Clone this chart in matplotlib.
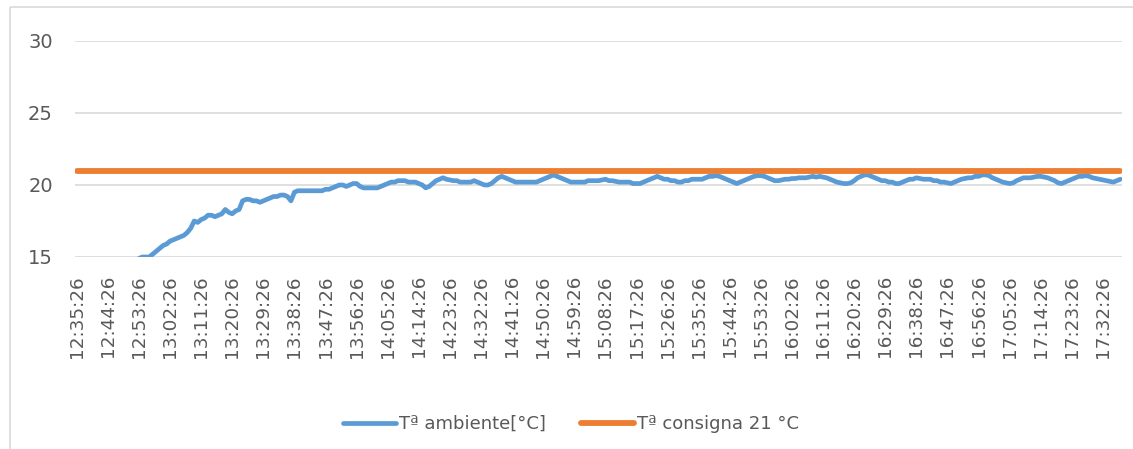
import matplotlib
matplotlib.use("Agg")
import matplotlib.pyplot as plt
from matplotlib.patches import Rectangle
import numpy as np

# Per-minute ambient temperature readings starting 12:35:26
temp_ambiente = [
    12.4, 12.5, 12.6, 12.7, 12.8, 12.9, 13.0, 13.1, 13.2,
    13.3, 13.4, 13.5, 13.6, 13.8, 13.9, 14.1, 14.3, 14.6,
    14.9, 15.0, 15.0, 15.0, 15.2, 15.4, 15.6, 15.8, 15.9,
    16.1, 16.2, 16.3, 16.4, 16.5, 16.7, 17.0, 17.5, 17.4,
    17.6, 17.7, 17.9, 17.9, 17.8, 17.9, 18.0, 18.3, 18.1,
    18.0, 18.2, 18.3, 18.9, 19.0, 19.0, 18.9, 18.9, 18.8,
    18.9, 19.0, 19.1, 19.2, 19.2, 19.3, 19.3, 19.2, 18.9,
    19.5, 19.6, 19.6, 19.6, 19.6, 19.6, 19.6, 19.6, 19.6,
    19.7, 19.7, 19.8, 19.9, 20.0, 20.0, 19.9, 20.0, 20.1,
    20.1, 19.9, 19.8, 19.8, 19.8, 19.8, 19.8, 19.9, 20.0,
    20.1, 20.2, 20.2, 20.3, 20.3, 20.3, 20.2, 20.2, 20.2,
    20.1, 20.0, 19.8, 19.9, 20.1, 20.3, 20.4, 20.5, 20.4,
    20.35, 20.3, 20.3, 20.2, 20.2, 20.2, 20.2, 20.3, 20.2,
    20.1, 20.0, 20.0, 20.1, 20.3, 20.5, 20.6, 20.5, 20.4,
    20.3, 20.2, 20.2, 20.2, 20.2, 20.2, 20.2, 20.2, 20.3,
    20.4, 20.5, 20.6, 20.7, 20.6, 20.5, 20.4, 20.3, 20.2,
    20.2, 20.2, 20.2, 20.2, 20.3, 20.3, 20.3, 20.3, 20.35,
    20.4, 20.3, 20.3, 20.25, 20.2, 20.2, 20.2, 20.2, 20.1,
    20.1, 20.1, 20.2, 20.3, 20.4, 20.5, 20.6, 20.5, 20.4,
    20.4, 20.3, 20.3, 20.2, 20.2, 20.3, 20.3, 20.4, 20.4,
    20.4, 20.4, 20.5, 20.6, 20.6, 20.65, 20.6, 20.5, 20.4,
    20.3, 20.2, 20.1, 20.2, 20.3, 20.4, 20.5, 20.6, 20.65,
    20.65, 20.6, 20.5, 20.4, 20.3, 20.3, 20.35, 20.4, 20.4,
    20.45, 20.45, 20.5, 20.5, 20.5, 20.55, 20.6, 20.55, 20.6,
    20.55, 20.5, 20.4, 20.3, 20.2, 20.15, 20.1, 20.1, 20.15,
    20.3, 20.5, 20.6, 20.7, 20.7, 20.6, 20.5, 20.4, 20.3,
    20.3, 20.2, 20.2, 20.1, 20.1, 20.2, 20.3, 20.4, 20.4,
    20.5, 20.45, 20.4, 20.4, 20.4, 20.3, 20.3, 20.2, 20.2,
    20.15, 20.1, 20.2, 20.3, 20.4, 20.45, 20.5, 20.5, 20.6,
    20.6, 20.7, 20.7, 20.65, 20.5, 20.4, 20.3, 20.2, 20.15,
    20.1, 20.15, 20.3, 20.4, 20.5, 20.5, 20.5, 20.55, 20.6,
    20.6, 20.55, 20.5, 20.4, 20.3, 20.15, 20.1, 20.2, 20.3,
    20.4, 20.5, 20.6, 20.6, 20.65, 20.6, 20.5, 20.45, 20.4,
    20.35, 20.3, 20.25, 20.2, 20.3, 20.4,
]
setpoint = 21.0
temp_consigna = [setpoint] * len(temp_ambiente)

tick_labels = [
    "12:35:26", "12:44:26", "12:53:26", "13:02:26", "13:11:26", "13:20:26",
    "13:29:26", "13:38:26", "13:47:26", "13:56:26", "14:05:26", "14:14:26",
    "14:23:26", "14:32:26", "14:41:26", "14:50:26", "14:59:26", "15:08:26",
    "15:17:26", "15:26:26", "15:35:26", "15:44:26", "15:53:26", "16:02:26",
    "16:11:26", "16:20:26", "16:29:26", "16:38:26", "16:47:26", "16:56:26",
    "17:05:26", "17:14:26", "17:23:26", "17:32:26",
]
label_step = 9  # minutes between tick labels

series_names = ["Tª ambiente[°C]", "Tª consigna 21 °C"]
colors = ["#5B9BD5", "#ED7D31"]

W, H = 1133, 449
fig = plt.figure(figsize=(W / 100, H / 100), dpi=100)
fig.patch.set_facecolor("white")

# outer chart border
fig.add_artist(Rectangle((10 / W, 1 - 7 / H), 2.0, -2.0, transform=fig.transFigure,
                         fill=False, edgecolor="#D9D9D9", linewidth=1.2))

left, right = 75 / W, 1122 / W
bottom, top = 1 - 257 / H, 1 - 41 / H
ax = fig.add_axes([left, bottom, right - left, top - bottom])

x = np.arange(len(temp_ambiente))
ax.plot(x, temp_ambiente, color=colors[0], linewidth=3.4, label=series_names[0],
        solid_capstyle="round", solid_joinstyle="round", zorder=3)
ax.plot(x, temp_consigna, color=colors[1], linewidth=4.2, label=series_names[1],
        solid_capstyle="round", zorder=4)

ax.set_xlim(-0.5, len(temp_ambiente) - 0.5)
ax.set_ylim(15, 30)
ax.set_yticks([15, 20, 25, 30])
ax.set_xticks(x[::label_step][:len(tick_labels)])
ax.set_xticklabels(tick_labels, rotation=90)

ax.grid(axis="y", color="#D9D9D9", linewidth=1.2)
ax.set_axisbelow(True)
for s in ["top", "right", "left", "bottom"]:
    ax.spines[s].set_visible(False)

ax.tick_params(axis="both", length=0, colors="#595959")
ax.tick_params(axis="y", labelsize=14, pad=16)
ax.tick_params(axis="x", labelsize=13.2, pad=13)
for lbl in ax.get_xticklabels() + ax.get_yticklabels():
    lbl.set_color("#595959")

leg = fig.legend(loc="center", bbox_to_anchor=(571 / W, 1 - 424 / H), ncol=2,
                 frameon=False, fontsize=13, handlelength=2.9, handletextpad=0.15,
                 columnspacing=2.0)
for t in leg.get_texts():
    t.set_color("#595959")

fig.savefig("out.png", dpi=100, facecolor="white")
